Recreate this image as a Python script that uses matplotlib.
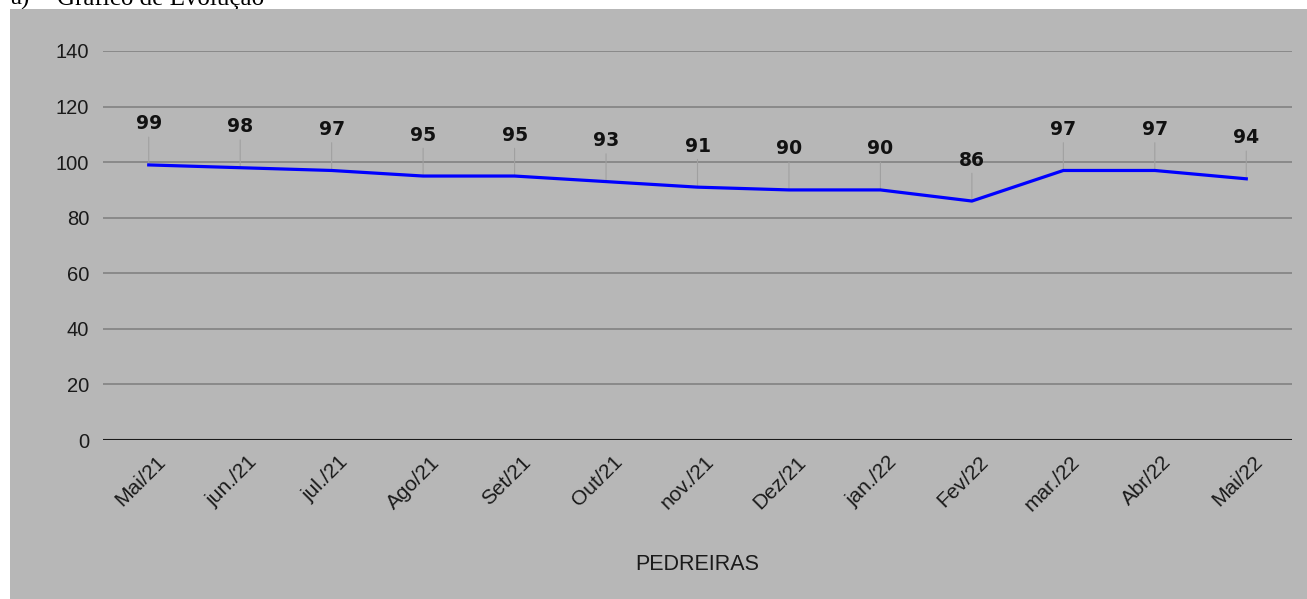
import matplotlib
matplotlib.use('Agg')
import matplotlib.pyplot as plt
from matplotlib.patches import Rectangle
from matplotlib.transforms import ScaledTranslation

# data
months = ['Mai/21', 'jun./21', 'jul./21', 'Ago/21', 'Set/21', 'Out/21', 'nov./21',
          'Dez/21', 'jan./22', 'Fev/22', 'mar./22', 'Abr/22', 'Mai/22']
values = [99, 98, 97, 95, 95, 93, 91, 90, 90, 86, 97, 97, 94]
y_ticks = [0, 20, 40, 60, 80, 100, 120, 140]

W, H = 1307, 599
BG = '#b7b7b7'

fig = plt.figure(figsize=(W / 100, H / 100), dpi=100, facecolor='white')

# caption above the chart, cut off by the page edge
fig.text(10 / W, 1 - 5 / H, 'a)', family='Liberation Serif', fontsize=18,
         va='baseline', ha='left', color='black')
fig.text(57 / W, 1 - 5 / H, 'Gráfico de Evolução', family='Liberation Serif',
         fontsize=18, va='baseline', ha='left', color='black')

# gray chart background
fig.patches.append(Rectangle((10 / W, 0), 1 - 10 / W, 1 - 9 / H,
                             transform=fig.transFigure, facecolor=BG,
                             edgecolor='none', zorder=5))

ax = fig.add_axes([103 / W, 1 - 440 / H, (1292 - 103) / W, (440 - 51) / H], zorder=10)
ax.set_facecolor('none')
x = list(range(len(months)))
ax.set_xlim(-0.5, len(months) - 0.5)
ax.set_ylim(0, 140)

for t in y_ticks[1:]:
    ax.axhline(t, color='#828282', lw=1.2, zorder=1)
ax.axhline(0, color='#1a1a1a', lw=1.5, zorder=2)

ax.plot(x, values, color='#0000ff', lw=2.3, zorder=4)

# data labels with leader lines
for xi, v in zip(x, values):
    ax.annotate('', xy=(xi, v), xytext=(0, 20), textcoords='offset points',
                arrowprops=dict(arrowstyle='-', color='#a0a0a0', lw=0.8,
                                shrinkA=0, shrinkB=0), zorder=3)
    ax.annotate(str(v), xy=(xi, v), xytext=(0, 29.5), textcoords='offset points',
                ha='center', va='center', family='DejaVu Sans', fontweight='bold',
                fontsize=13.5, color='#111111', zorder=5)

for s in ax.spines.values():
    s.set_visible(False)
ax.tick_params(axis='both', length=0, colors='#1a1a1a')
ax.set_yticks(y_ticks)
ax.set_yticklabels([str(t) for t in y_ticks], family='Liberation Sans', fontsize=14.5)
ax.tick_params(axis='y', pad=10)
ax.set_xticks(x)
ax.set_xticklabels(months, rotation=45, ha='right', rotation_mode='anchor',
                   family='Liberation Sans', fontsize=15)
ax.tick_params(axis='x', pad=9)
shift = ScaledTranslation(7 / 100, 0, fig.dpi_scale_trans)
for lbl in ax.get_xticklabels():
    lbl.set_transform(lbl.get_transform() + shift)
ax.set_xlabel('PEDREIRAS', family='Liberation Sans', fontsize=15.5, color='#1a1a1a',
              labelpad=28)

fig.savefig('out.png', dpi=100, facecolor='white')
